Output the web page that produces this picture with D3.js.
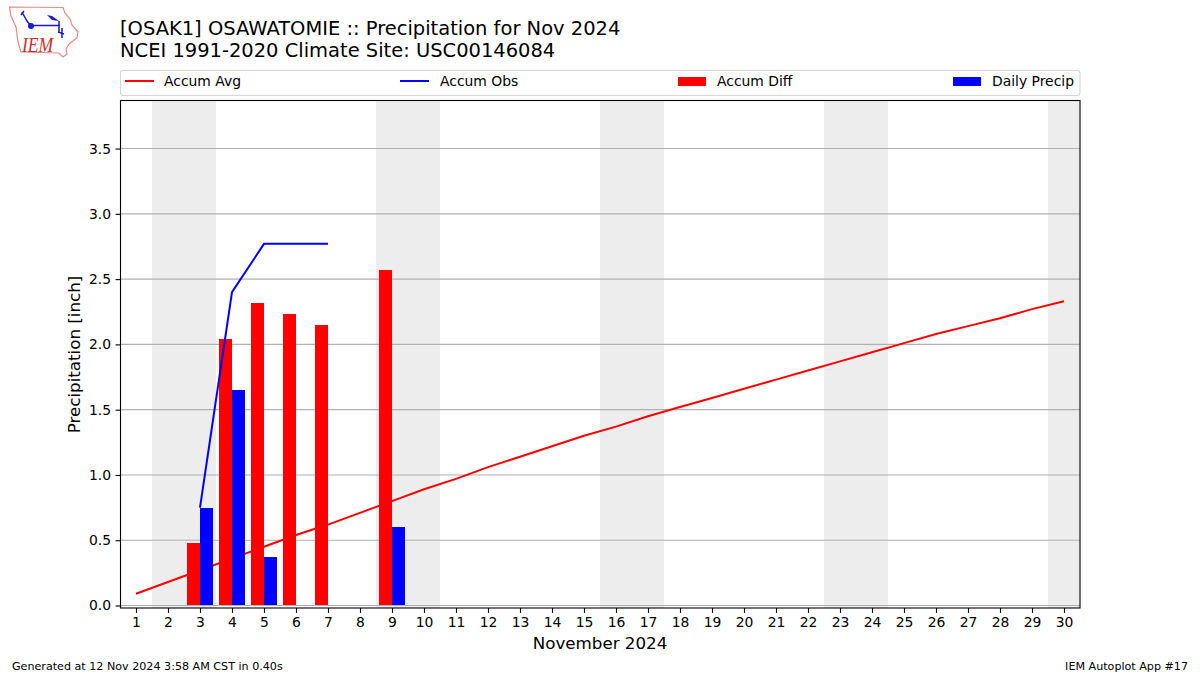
<!DOCTYPE html>
<html>
<head>
<meta charset="utf-8">
<style>
  html, body { margin: 0; padding: 0; background: #fff; }
  text { font-family: "DejaVu Sans", sans-serif; fill: #000; }
</style>
<script src="https://cdn.jsdelivr.net/npm/d3@7"></script>
</head>
<body>
<svg width="1200" height="675"></svg>
<script>
var days = d3.range(1, 31);
var accumAvg = [0.09, 0.18, 0.27, 0.36, 0.45, 0.54, 0.62, 0.71, 0.80, 0.89,
    0.97, 1.06, 1.14, 1.22, 1.30, 1.37, 1.45, 1.52, 1.59, 1.66,
    1.73, 1.80, 1.87, 1.94, 2.01, 2.08, 2.14, 2.20, 2.27, 2.33];
var obsDays = [3, 4, 5, 6, 7];
var accumObs = [0.75, 2.40, 2.77, 2.77, 2.77];
var diffDays = [3, 4, 5, 6, 7, 9];
var accumDiff = [0.48, 2.04, 2.32, 2.23, 2.15, 2.57];
var precipDays = [3, 4, 5, 9];
var dailyPrecip = [0.75, 1.65, 0.37, 0.60];
var weekends = [[1.5, 3.5], [8.5, 10.5], [15.5, 17.5], [22.5, 24.5], [29.5, 30.5]];
var yTicks = [0, 0.5, 1, 1.5, 2, 2.5, 3, 3.5];

var left = 120, right = 1080, top_ = 100.5, bottom = 608;
var barWidth = 0.4;

var svg = d3.select("svg");
var x = d3.scaleLinear().domain([0.5, 30.5]).range([left, right]);
var y = d3.scaleLinear().domain([-0.019, 3.868]).range([bottom, top_]);

// weekend bands
svg.append("g").selectAll("rect")
    .data(weekends)
    .enter().append("rect")
    .attr("x", function (d) { return x(d[0]); })
    .attr("width", function (d) { return x(d[1]) - x(d[0]); })
    .attr("y", top_)
    .attr("height", bottom - top_)
    .attr("fill", "#ededed");

// grid
svg.append("g").selectAll("line")
    .data(yTicks)
    .enter().append("line")
    .attr("x1", left)
    .attr("x2", right)
    .attr("y1", function (d) { return y(d); })
    .attr("y2", function (d) { return y(d); })
    .attr("stroke", "#b0b0b0")
    .attr("stroke-width", 1.1);

var line = d3.line()
    .x(function (d) { return x(d[0]); })
    .y(function (d) { return y(d[1]); });

svg.append("path")
    .datum(d3.zip(days, accumAvg))
    .attr("d", line)
    .attr("fill", "none")
    .attr("stroke", "#ff0000")
    .attr("stroke-width", 2);

svg.append("g").selectAll("rect")
    .data(d3.zip(diffDays, accumDiff))
    .enter().append("rect")
    .attr("x", function (d) { return x(d[0] - barWidth); })
    .attr("width", function (d) { return x(d[0]) - x(d[0] - barWidth); })
    .attr("y", function (d) { return y(d[1]); })
    .attr("height", function (d) { return y(0) - y(d[1]) - 0.5; })
    .attr("shape-rendering", "crispEdges")
    .attr("fill", "#ff0000");

svg.append("g").selectAll("rect")
    .data(d3.zip(precipDays, dailyPrecip))
    .enter().append("rect")
    .attr("x", function (d) { return x(d[0]); })
    .attr("width", function (d) { return x(d[0] + barWidth) - x(d[0]); })
    .attr("y", function (d) { return y(d[1]); })
    .attr("height", function (d) { return y(0) - y(d[1]) - 0.5; })
    .attr("shape-rendering", "crispEdges")
    .attr("fill", "#0000ff");

svg.append("path")
    .datum(d3.zip(obsDays, accumObs))
    .attr("d", line)
    .attr("fill", "none")
    .attr("stroke", "#0000ff")
    .attr("stroke-width", 2);

// frame and axes
svg.append("rect")
    .attr("x", left + 0.5)
    .attr("y", top_)
    .attr("width", right - left - 0.5)
    .attr("height", bottom - top_)
    .attr("fill", "none")
    .attr("stroke", "#000")
    .attr("stroke-width", 1.1);

var xAxis = svg.append("g")
    .attr("transform", "translate(0," + bottom + ")")
    .call(d3.axisBottom(x).tickValues(days).tickSize(4.9).tickPadding(4.5).tickFormat(d3.format("d")));
var yAxis = svg.append("g")
    .attr("transform", "translate(" + (left + 0.5) + ",0)")
    .call(d3.axisLeft(y).tickValues(yTicks).tickSize(4.9).tickPadding(4.5).tickFormat(d3.format(".1f")));
[xAxis, yAxis].forEach(function (a) {
    a.select(".domain").remove();
    a.selectAll(".tick line").attr("stroke", "#000").attr("stroke-width", 1.1);
    a.selectAll(".tick text")
        .attr("font-size", 13.9)
        .attr("font-family", "DejaVu Sans")
        .attr("fill", "#000");
});

// titles
svg.append("text").attr("x", 120).attr("y", 35).attr("font-size", 19.48)
    .text("[OSAK1] OSAWATOMIE :: Precipitation for Nov 2024");
svg.append("text").attr("x", 120).attr("y", 57).attr("font-size", 19.48)
    .text("NCEI 1991-2020 Climate Site: USC00146084");
svg.append("text").attr("x", 600).attr("y", 649).attr("text-anchor", "middle").attr("font-size", 16.7)
    .text("November 2024");
svg.append("text")
    .attr("transform", "translate(80,354.5) rotate(-90)")
    .attr("text-anchor", "middle")
    .attr("font-size", 16.7)
    .text("Precipitation [inch]");
svg.append("text").attr("x", 12).attr("y", 670).attr("font-size", 11.13)
    .text("Generated at 12 Nov 2024 3:58 AM CST in 0.40s");
svg.append("text").attr("x", 1188).attr("y", 670).attr("text-anchor", "end").attr("font-size", 11.13)
    .text("IEM Autoplot App #17");

// legend
svg.append("rect")
    .attr("x", 120.5).attr("y", 70.5)
    .attr("width", 959.5).attr("height", 25)
    .attr("rx", 2.5)
    .attr("fill", "#fff")
    .attr("stroke", "#d6d6d6")
    .attr("stroke-width", 1.1);
var legendItems = [
    { label: "Accum Avg", color: "#ff0000", kind: "line", hx: 125, tx: 164 },
    { label: "Accum Obs", color: "#0000ff", kind: "line", hx: 400, tx: 440 },
    { label: "Accum Diff", color: "#ff0000", kind: "bar", hx: 678, tx: 717 },
    { label: "Daily Precip", color: "#0000ff", kind: "bar", hx: 953, tx: 992 }
];
var item = svg.append("g").selectAll("g")
    .data(legendItems)
    .enter().append("g");
item.filter(function (d) { return d.kind == "line"; }).append("line")
    .attr("x1", function (d) { return d.hx; })
    .attr("x2", function (d) { return d.hx + 29; })
    .attr("y1", 81)
    .attr("y2", 81)
    .attr("stroke", function (d) { return d.color; })
    .attr("stroke-width", 2);
item.filter(function (d) { return d.kind == "bar"; }).append("rect")
    .attr("x", function (d) { return d.hx; })
    .attr("y", 77)
    .attr("width", 28)
    .attr("height", 9)
    .attr("fill", function (d) { return d.color; });
item.append("text")
    .attr("x", function (d) { return d.tx; })
    .attr("y", 86)
    .attr("font-size", 13.9)
    .text(function (d) { return d.label; });

// IEM logo
var logo = svg.append("g");
logo.append("path")
    .attr("d", "M9.5,7 L63,7.5 L65,13 L70,19 L72,25 L78,32 L77,38 L69,44 L66,49 L67,54 L63,57 L59,53 L21,52 L18,42 L16,27 L11,16 Z")
    .attr("fill", "#fff")
    .attr("stroke", "#e58a8a")
    .attr("stroke-width", 1.2);
logo.append("path")
    .attr("d", "M22,12 L27,21 L30,25 M21,15 L24,11 M33,25.5 L60,25.5 M59,21 L59,32 M62,28 L62,38 M58,32 L64,34")
    .attr("fill", "none")
    .attr("stroke", "#1a1ad6")
    .attr("stroke-width", 1.5);
logo.append("path")
    .attr("d", "M47,15 L52,16 L59,21 L52,20 Z")
    .attr("fill", "#1a1ad6");
logo.append("circle").attr("cx", 31).attr("cy", 26).attr("r", 3).attr("fill", "#1a1ad6");
logo.append("text")
    .attr("transform", "translate(22,52) scale(0.8,1)")
    .attr("font-size", 22)
    .attr("font-style", "italic")
    .style("font-family", "'Liberation Serif', serif")
    .style("fill", "#d62a2a")
    .text("IEM");
</script>
</body>
</html>
